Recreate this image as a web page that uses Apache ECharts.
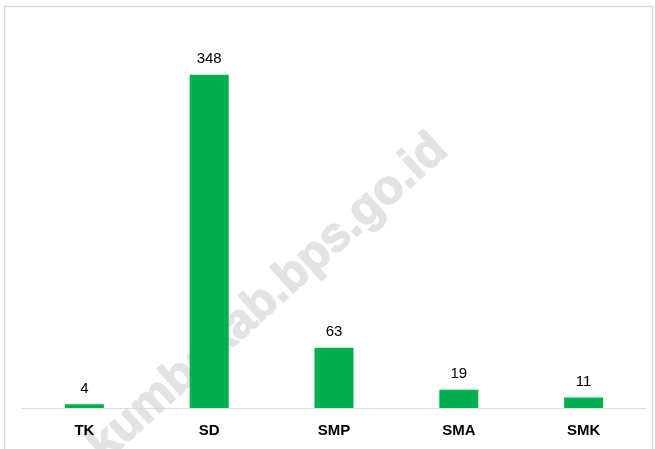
<!DOCTYPE html>
<html>
<head>
<meta charset="utf-8">
<script src="https://cdn.jsdelivr.net/npm/echarts@6/dist/echarts.min.js"></script>
<style>
  html, body { margin: 0; padding: 0; background: #fff; }
  #chart { width: 655px; height: 449px; }
</style>
</head>
<body>
<div id="chart"></div>
<script>
// jenjang pendidikan
var categories = ['TK', 'SD', 'SMP', 'SMA', 'SMK'];
var jumlah = [4, 348, 63, 19, 11];

var chart = echarts.init(document.getElementById('chart'));

chart.setOption({
    animation: false,
    grid: { left: 22, right: 9, top: 25, bottom: 41 },
    xAxis: {
        type: 'category',
        data: categories,
        axisLine: { lineStyle: { color: '#d9d9d9', width: 1 } },
        axisTick: { show: false },
        axisLabel: {
            color: '#000', fontSize: 15, fontWeight: 'bold',
            fontFamily: 'Liberation Sans', margin: 15
        }
    },
    yAxis: {
        type: 'value', min: 0, max: 400,
        show: false,
        splitLine: { show: false }
    },
    graphic: [
        {
            type: 'rect', silent: true, z: -1,
            shape: { x: 4.5, y: 6.5, width: 648, height: 460 },
            style: { fill: 'none', stroke: '#d9d9d9', lineWidth: 1.5 }
        },
        {
            // watermark
            type: 'text', silent: true, z: 0,
            x: 268, y: 298, rotation: 42 * Math.PI / 180,
            style: {
                text: 'kumbakab.bps.go.id',
                font: 'bold 48px "Liberation Sans"',
                fill: '#e3e3e3',
                stroke: '#e3e3e3', lineWidth: 1.5,
                align: 'center', verticalAlign: 'middle'
            }
        }
    ],
    series: [{
        type: 'bar',
        data: jumlah,
        barWidth: 39,
        z: 2,
        itemStyle: { color: '#00b050' },
        label: {
            show: true, position: 'top', distance: 8,
            color: '#000', fontSize: 15, fontFamily: 'Liberation Sans'
        }
    }]
});
</script>
</body>
</html>
